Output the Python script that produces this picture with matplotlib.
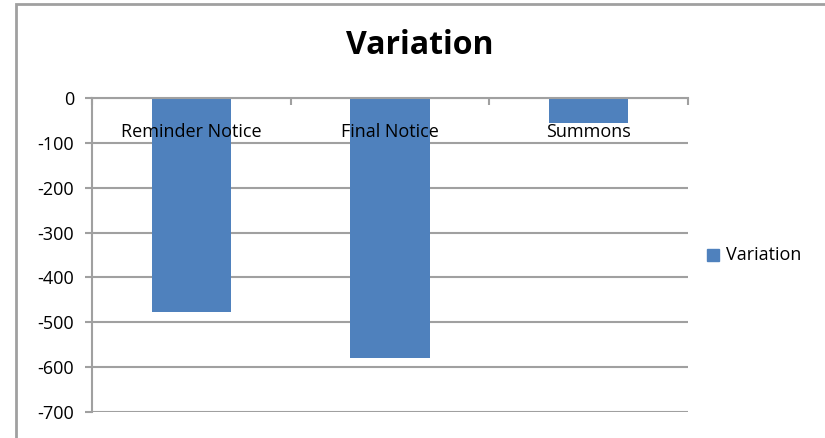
import matplotlib.pyplot as plt
from matplotlib.patches import Rectangle

# datos
categorias = ["Reminder Notice", "Final Notice", "Summons"]
variacion = [-477, -580, -56]
ticks_y = [0, -100, -200, -300, -400, -500, -600, -700]

AZUL = "#4F81BD"
GRIS = "#A0A0A0"
FUENTE = ["Open Sans", "DejaVu Sans"]
TAM = 13

fig = plt.figure(figsize=(8.25, 4.38), dpi=100)
W, H = 825, 438

# borde del area del grafico (se sale por abajo y por la derecha)
fig.patches.append(Rectangle((16 / W, -0.1), 1.2, 1 - 4 / H + 0.1,
                             transform=fig.transFigure, fill=False,
                             edgecolor=GRIS, linewidth=2))

ax = fig.add_axes([92 / W, 1 - 412 / H, (688 - 92) / W, (412 - 98) / H])

x = range(len(categorias))
ax.bar(x, variacion, width=0.4, color=AZUL, label="Variation", zorder=2)

ax.set_xlim(-0.5, len(categorias) - 0.5)
ax.set_ylim(-700, 0)
ax.set_yticks(ticks_y)
ax.set_yticklabels([str(v) for v in ticks_y], fontsize=TAM, family=FUENTE)
ax.yaxis.grid(True, color=GRIS, linewidth=1.5, zorder=0)
ax.tick_params(axis="y", length=5, color=GRIS, width=1.5, pad=8)

# eje x arriba (en el cero), marcas entre categorias
ax.set_xticks([-0.5, 0.5, 1.5, 2.5])
ax.set_xticklabels([])
ax.xaxis.set_ticks_position("top")
ax.tick_params(axis="x", direction="in", length=5, color=GRIS, width=1.5)

for s in ["right", "bottom"]:
    ax.spines[s].set_visible(False)
for s in ["left", "top"]:
    ax.spines[s].set_color(GRIS)
    ax.spines[s].set_linewidth(1.5)

# etiquetas de categoria junto al eje
for i, c in enumerate(categorias):
    ax.text(i, -75, c, ha="center", va="center", fontsize=TAM,
            family=FUENTE, color="black", zorder=3)

fig.text(420 / W, 1 - 45 / H, "Variation", ha="center", va="center",
         fontsize=23, fontweight="bold", family=FUENTE)

# leyenda
fig.patches.append(Rectangle((707 / W, 1 - 261 / H), 12 / W, 12 / H,
                             transform=fig.transFigure, color=AZUL))
fig.text(726 / W, 1 - 255 / H, "Variation", ha="left", va="center",
         fontsize=TAM, family=FUENTE)

plt.savefig("out.png", dpi=100)
